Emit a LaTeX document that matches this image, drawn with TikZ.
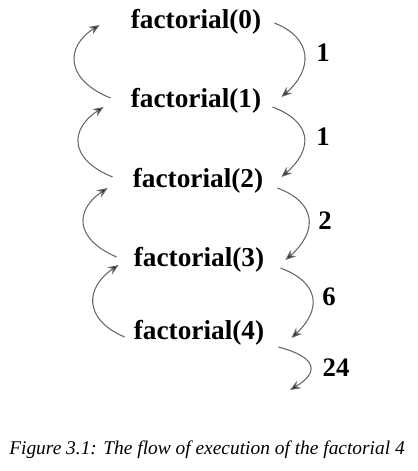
\documentclass[tikz,border=0pt]{standalone}
\usepackage{fontspec}
\setmainfont{Liberation Serif}
\usetikzlibrary{arrows.meta,calc}

\begin{document}
\begin{tikzpicture}[x=0.025cm, y=-0.025cm,
    call/.style={inner sep=0pt, font=\fontsize{19.4}{22}\selectfont\bfseries},
    val/.style={inner sep=0pt, font=\fontsize{19}{22}\selectfont\bfseries},
    flow/.style={draw=black!60, line width=0.75pt, -{Stealth[length=7.5pt, width=6pt, fill=black!85]}}]
    \useasboundingbox (0,0) rectangle (417,471);

    \node[call] (f0) at (196, 22) {factorial(0)};
    \node[call] (f1) at (196, 101) {factorial(1)};
    \node[call] (f2) at (198, 181) {factorial(2)};
    \node[call] (f3) at (199, 260) {factorial(3)};
    \node[call] (f4) at (199, 333) {factorial(4)};
    \coordinate (out) at (290, 390);

    \node[val] (v0) at (323, 53) {1};
    \node[val] (v1) at (323, 137) {1};
    \node[val] (v2) at (325, 221) {2};
    \node[val] (v3) at (329, 297) {6};
    \node[val] (v4) at (336, 368) {24};

    % calls going up
    \draw[flow] ($(f1.west)+(-20,-3)$) .. controls +(-45,-18) and +(-35,22) .. ($(f0.west)+(-31,3)$);
    \draw[flow] ($(f2.west)+(-20,-4)$) .. controls +(-44,-18) and +(-34,22) .. ($(f1.west)+(-27,6)$);
    \draw[flow] ($(f3.west)+(-17,-3)$) .. controls +(-42,-18) and +(-33,22) .. ($(f2.west)+(-25,7)$);
    \draw[flow] ($(f4.west)+(-9,4)$) .. controls +(-42,-18) and +(-33,22) .. ($(f3.west)+(-15,5)$);

    % values coming back
    \draw[flow] ($(f0.east)+(13,1)$) .. controls +(38,15) and +(32,-28) .. ($(f1.east)+(20,-4)$);
    \draw[flow] ($(f1.east)+(11,6)$) .. controls +(40,15) and +(32,-28) .. ($(f2.east)+(18,-4)$);
    \draw[flow] ($(f2.east)+(14,7)$) .. controls +(40,15) and +(32,-28) .. ($(f3.east)+(21,0)$);
    \draw[flow] ($(f3.east)+(16,8)$) .. controls +(40,15) and +(30,-28) .. ($(f4.east)+(27,5)$);
    \draw[flow] ($(f4.east)+(14,14)$) .. controls +(38,10) and +(30,-18) .. (out);

    \node[inner sep=0pt, font=\fontsize{13.8}{16}\selectfont\itshape] (cap) at (207, 450)
      {Figure 3.1: The flow of execution of the factorial 4};
  \end{tikzpicture}
\end{document}
